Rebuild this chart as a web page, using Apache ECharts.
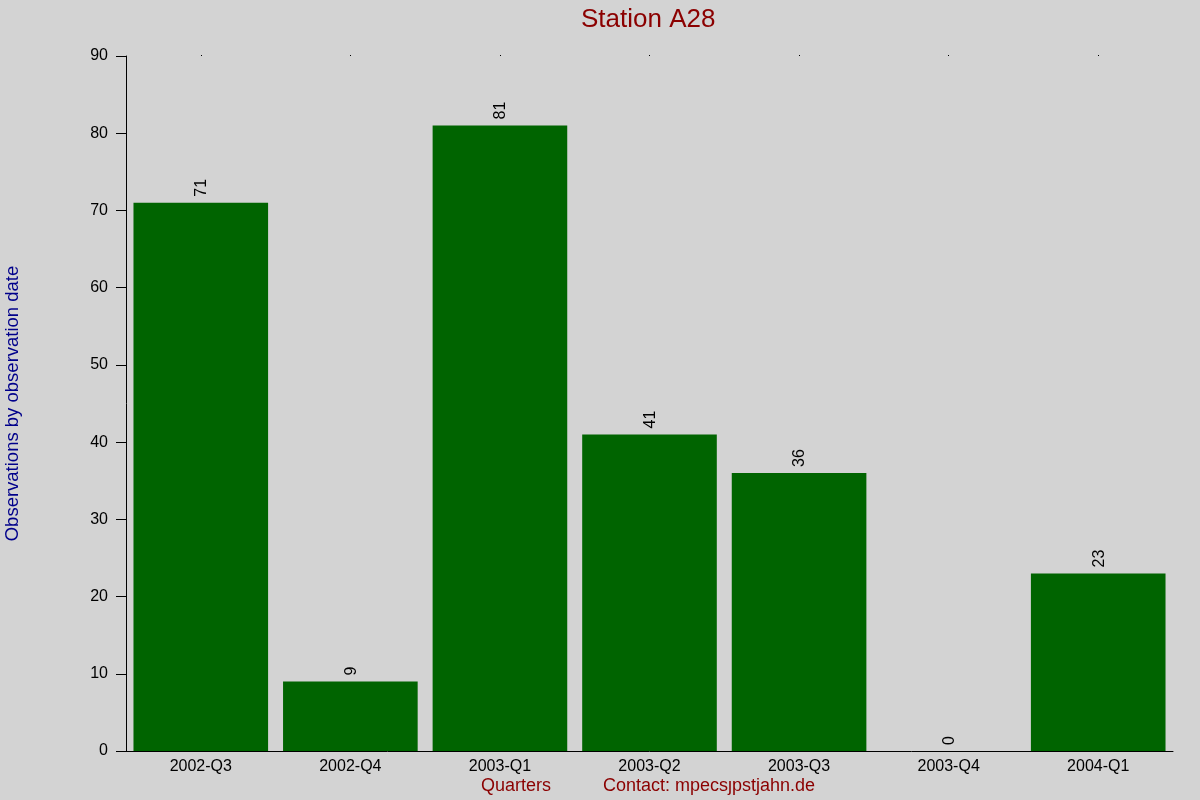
<!DOCTYPE html>
<html>
<head>
<meta charset="utf-8">
<script src="https://cdn.jsdelivr.net/npm/echarts@6/dist/echarts.min.js"></script>
<style>
  html, body { margin: 0; padding: 0; background: #d3d3d3; }
  #chart { width: 1200px; height: 800px; }
</style>
</head>
<body>
<div id="chart"></div>
<script>
const quarters = ['2002-Q3', '2002-Q4', '2003-Q1', '2003-Q2', '2003-Q3', '2003-Q4', '2004-Q1']
const observations = [71, 9, 81, 41, 36, 0, 23]
const yTicks = { min: 0, max: 90, step: 10 }

const font = 'Liberation Sans, Arial, sans-serif'
const chart = echarts.init(document.getElementById('chart'))

chart.setOption({
  backgroundColor: '#d3d3d3',
  animation: false,
  title: {
    text: 'Station A28',
    left: 581,
    top: 7,
    padding: 0,
    textStyle: { color: '#8b0000', fontSize: 26, fontWeight: 'normal', fontFamily: font }
  },
  grid: { left: 126, right: 27, top: 56, bottom: 49, containLabel: false, outerBoundsMode: 'none' },
  xAxis: [
    {
      type: 'category',
      data: quarters,
      axisLine: { lineStyle: { color: '#000', width: 1 } },
      axisTick: { show: false },
      axisLabel: { color: '#000', fontSize: 16, fontFamily: font, margin: 8 }
    },
    {
      // tiny marks along the top edge
      type: 'category',
      position: 'top',
      data: quarters,
      axisLine: { show: false },
      axisTick: { show: true, alignWithLabel: true, length: 1, lineStyle: { color: '#000' } },
      axisLabel: { show: false }
    }
  ],
  yAxis: {
    type: 'value',
    min: yTicks.min,
    max: yTicks.max,
    interval: yTicks.step,
    name: 'Observations by observation date',
    nameLocation: 'middle',
    nameGap: 104,
    nameTextStyle: { color: '#00008b', fontSize: 18.5, fontFamily: font },
    axisLine: { show: true, lineStyle: { color: '#000', width: 1 } },
    axisTick: { show: true, length: 10, lineStyle: { color: '#000' } },
    axisLabel: { color: '#000', fontSize: 16, fontFamily: font, margin: 18 },
    splitLine: { show: false }
  },
  series: [
    {
      type: 'bar',
      data: observations,
      xAxisIndex: 0,
      barCategoryGap: '10%',
      itemStyle: { color: '#006400' },
      label: {
        show: true,
        position: 'top',
        rotate: 90,
        align: 'left',
        verticalAlign: 'middle',
        distance: 6,
        offset: [0, 1],
        color: '#000',
        fontSize: 16,
        fontFamily: font
      }
    }
  ],
  graphic: [
    {
      type: 'text',
      left: 481,
      top: 777,
      style: { text: 'Quarters', fill: '#8b0000', fontSize: 18, fontFamily: font }
    },
    {
      type: 'text',
      left: 603,
      top: 777,
      style: { text: 'Contact: mpecsȷpstjahn.de', fill: '#8b0000', fontSize: 18, fontFamily: font }
    }
  ]
})
</script>
</body>
</html>
